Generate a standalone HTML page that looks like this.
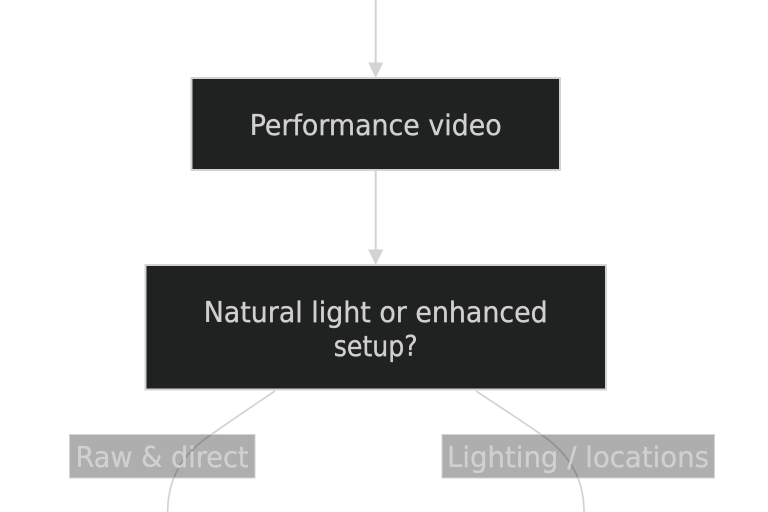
<!DOCTYPE html>
<html>
<head>
<meta charset="utf-8">
<style>
html,body{margin:0;padding:0;background:#fff;width:768px;height:512px;overflow:hidden}
svg{display:block}
text{font-family:"DejaVu Sans","Liberation Sans",sans-serif;font-size:28.500px;fill:#d0d0d0;stroke:#d0d0d0;stroke-width:0.350px;text-anchor:middle}
</style>
</head>
<body>
<svg width="768" height="512" viewBox="0 0 768 512" xmlns="http://www.w3.org/2000/svg">
<rect width="768" height="512" fill="#fff"/>
<line x1="375.700" y1="0" x2="375.700" y2="64" stroke="#d3d3d3" stroke-width="2"/>
<polygon points="368.200,62.500 383.300,62.500 375.700,78" fill="#d3d3d3"/>
<line x1="375.700" y1="170" x2="375.700" y2="251" stroke="#d3d3d3" stroke-width="2"/>
<polygon points="368.200,249.500 383.300,249.500 375.700,265" fill="#d3d3d3"/>
<path d="M275 391 C254 405 232 420 212 434 C185 452 167.700 475 167.700 512" fill="none" stroke="#d3d3d3" stroke-width="1.700"/>
<path d="M476 391 C497 405 519 419 539 433 C566 451 584 475 584 512" fill="none" stroke="#d3d3d3" stroke-width="1.700"/>
<rect x="191.500" y="78" width="368.500" height="92" fill="#202221" stroke="#d3d3d3" stroke-width="2"/>
<text x="375.700" y="135" textLength="252" lengthAdjust="spacingAndGlyphs">Performance video</text>
<rect x="145.500" y="265" width="460.500" height="124.500" fill="#202221" stroke="#d3d3d3" stroke-width="2"/>
<text x="375.700" y="322" textLength="344" lengthAdjust="spacingAndGlyphs">Natural light or enhanced</text>
<text x="375.700" y="356" textLength="84" lengthAdjust="spacingAndGlyphs">setup?</text>
<rect x="69.500" y="434.500" width="185.500" height="43.500" fill="#202221" fill-opacity="0.370" stroke="#d3d3d3" stroke-width="1"/>
<text x="162" y="467" textLength="173" lengthAdjust="spacingAndGlyphs">Raw &amp; direct</text>
<rect x="442" y="434.500" width="272.500" height="43.500" fill="#202221" fill-opacity="0.370" stroke="#d3d3d3" stroke-width="1"/>
<text x="578" y="467" textLength="262" lengthAdjust="spacingAndGlyphs">Lighting / locations</text>
</svg>
</body>
</html>
